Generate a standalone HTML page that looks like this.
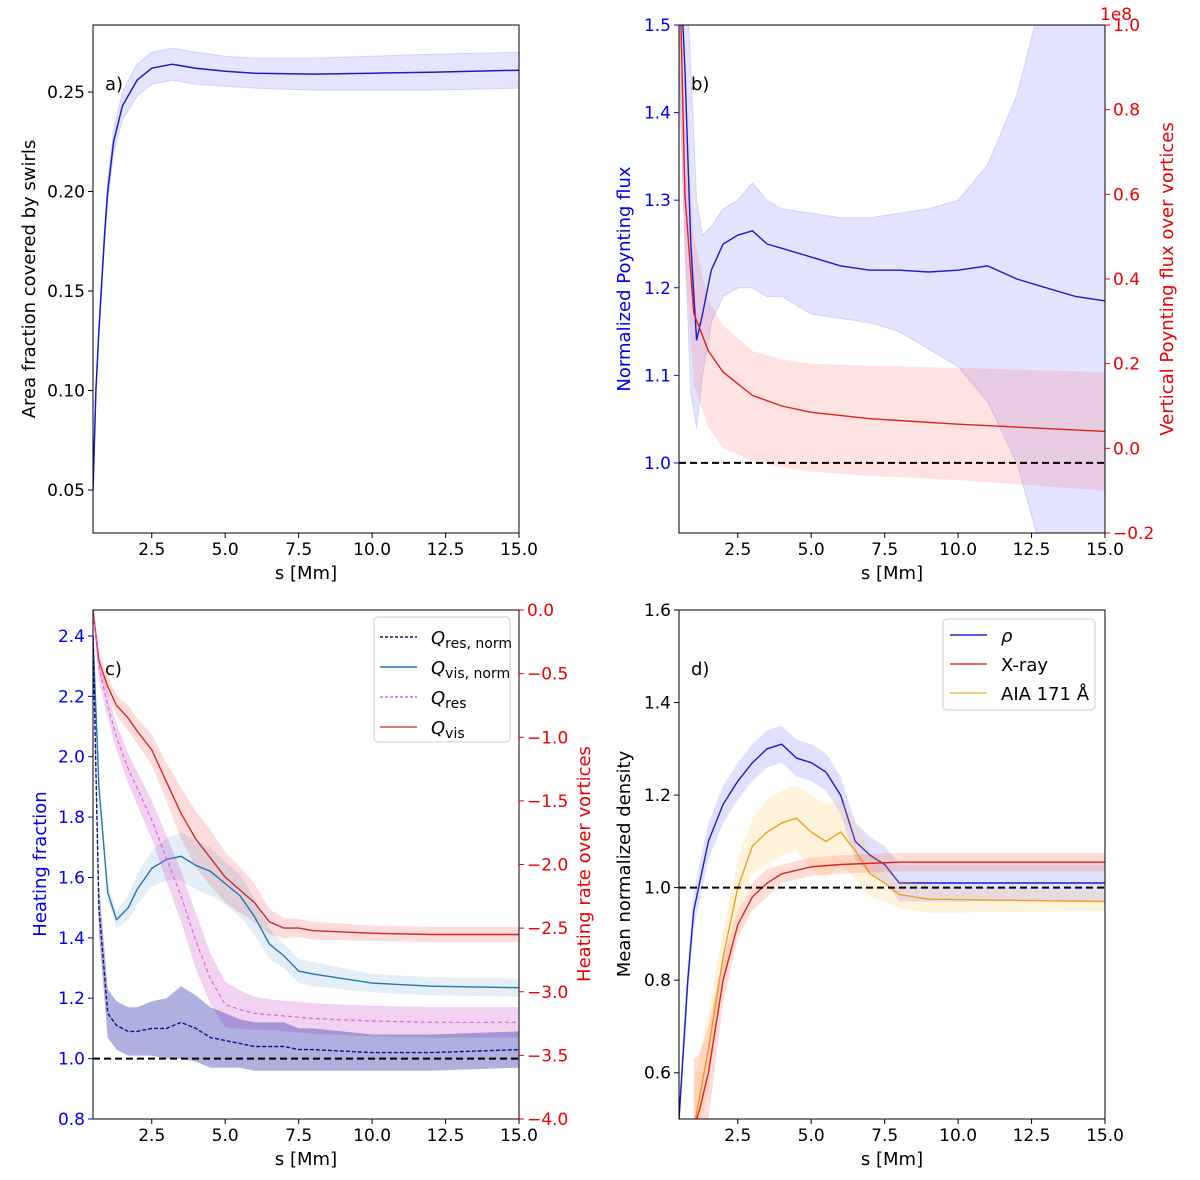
<!DOCTYPE html>
<html><head><meta charset="utf-8"><style>
body{margin:0;background:#fff;font-family:"Liberation Sans","DejaVu Sans",sans-serif}
svg text{font-family:"DejaVu Sans","Liberation Sans",sans-serif}
</style></head><body>
<svg id="fig" width="1200" height="1175" xmlns="http://www.w3.org/2000/svg"></svg>
<script>
// ---- shared x ----
const xTicks=[2.5,5,7.5,10,12.5,15];
const xTickLabels=["2.5","5.0","7.5","10.0","12.5","15.0"];
// ---- panel a ----
const aS=[0.5,0.6,0.7,0.8,0.9,1.0,1.2,1.5,2,2.5,3.2,4,5,6,8,10,12,15];
const aMean=[0.05,0.10,0.13,0.155,0.18,0.20,0.225,0.243,0.256,0.262,0.264,0.262,0.2605,0.2595,0.259,0.2595,0.260,0.261];
const aUp=[0.052,0.102,0.133,0.158,0.184,0.205,0.231,0.25,0.264,0.27,0.272,0.27,0.268,0.267,0.267,0.268,0.269,0.270];
const aLo=[0.048,0.098,0.127,0.152,0.176,0.195,0.219,0.236,0.248,0.254,0.256,0.254,0.253,0.252,0.251,0.251,0.251,0.252];
const aYTicks=[0.05,0.10,0.15,0.20,0.25];
// ---- panel b ----
const bS=[0.5,0.7,0.9,1.1,1.3,1.6,2,2.5,3,3.5,4,5,6,7,8,9,10,11,12,13,14,15];
const bMean=[1.6,1.45,1.25,1.14,1.17,1.22,1.25,1.26,1.265,1.25,1.245,1.235,1.225,1.22,1.22,1.218,1.22,1.225,1.21,1.20,1.19,1.185];
const bUp=[1.7,1.6,1.45,1.3,1.26,1.27,1.29,1.30,1.32,1.30,1.29,1.285,1.28,1.28,1.285,1.29,1.30,1.34,1.42,1.55,1.6,1.5];
const bLo=[1.45,1.25,1.08,1.04,1.1,1.16,1.19,1.20,1.20,1.19,1.19,1.17,1.165,1.16,1.15,1.13,1.11,1.07,1.0,0.88,0.85,0.86];
const bRS=[0.5,0.7,1.0,1.5,2,3,4,5,7,10,15];
const bRed=[1.2,0.6,0.32,0.23,0.18,0.125,0.1,0.085,0.07,0.057,0.04];
const bRedUp=[1.2,0.8,0.5,0.35,0.29,0.23,0.21,0.2,0.195,0.19,0.18];
const bRedLo=[0.9,0.45,0.15,0.05,0.0,-0.03,-0.045,-0.055,-0.065,-0.075,-0.1];
const bYTicks=[1.0,1.1,1.2,1.3,1.4,1.5];
const bRTicks=[-0.2,0,0.2,0.4,0.6,0.8,1.0];
const bRTickLabels=["\u22120.2","0.0","0.2","0.4","0.6","0.8","1.0"];
// ---- panel c ----
const cS=[0.5,0.7,1,1.3,1.7,2,2.5,3,3.5,4,4.5,5,5.5,6,6.5,7,7.5,8,10,12,15];
const cVisNorm=[2.4,1.9,1.55,1.46,1.5,1.56,1.63,1.66,1.67,1.64,1.62,1.58,1.54,1.47,1.38,1.34,1.29,1.28,1.25,1.24,1.235];
const cVisNormBand=[0.03,0.03,0.03,0.03,0.04,0.05,0.06,0.07,0.08,0.08,0.08,0.07,0.07,0.06,0.05,0.04,0.04,0.04,0.03,0.03,0.03];
const cResNorm=[2.4,1.5,1.15,1.11,1.09,1.09,1.10,1.10,1.12,1.10,1.07,1.06,1.05,1.04,1.04,1.04,1.03,1.03,1.02,1.02,1.03];
const cResNormBand=[0.05,0.08,0.08,0.08,0.08,0.08,0.09,0.1,0.12,0.11,0.1,0.09,0.08,0.08,0.08,0.08,0.07,0.07,0.06,0.06,0.06];
const cVis=[0,-0.4,-0.6,-0.75,-0.85,-0.95,-1.1,-1.35,-1.6,-1.8,-1.95,-2.1,-2.2,-2.3,-2.45,-2.5,-2.5,-2.52,-2.54,-2.55,-2.55];
const cVisBand=[0.05,0.08,0.08,0.08,0.1,0.1,0.12,0.15,0.2,0.22,0.22,0.2,0.18,0.15,0.1,0.08,0.07,0.07,0.06,0.06,0.06];
const cRes=[0,-0.45,-0.75,-1.0,-1.25,-1.4,-1.65,-1.95,-2.25,-2.6,-2.9,-3.1,-3.14,-3.17,-3.18,-3.19,-3.2,-3.21,-3.23,-3.24,-3.24];
const cResBand=[0.05,0.1,0.1,0.1,0.12,0.13,0.15,0.18,0.2,0.22,0.2,0.18,0.15,0.13,0.12,0.12,0.12,0.12,0.12,0.12,0.12];
const cYTicks=[0.8,1.0,1.2,1.4,1.6,1.8,2.0,2.2,2.4];
const cRTicks=[-4,-3.5,-3,-2.5,-2,-1.5,-1,-0.5,0];
// ---- panel d ----
const dS=[0.5,0.8,1,1.5,2,2.5,3,3.5,4,4.5,5,5.5,6,6.5,7,7.5,8,9,15];
const dRho=[0.5,0.8,0.95,1.1,1.18,1.23,1.27,1.3,1.31,1.28,1.27,1.25,1.2,1.1,1.07,1.05,1.01,1.01,1.01];
const dXS=[1.0,1.2,1.5,2,2.5,3,3.5,4,5,6,8,15];
const dXray=[0.48,0.52,0.6,0.8,0.92,0.98,1.01,1.03,1.045,1.05,1.055,1.055];
const dXrayBand=[0.15,0.12,0.1,0.05,0.03,0.03,0.03,0.02,0.02,0.02,0.02,0.02];
const dAS=[1.0,1.5,2,2.5,3,3.5,4,4.5,5,5.5,6,6.5,7,7.5,8,9,15];
const dAia=[0.48,0.65,0.85,1.0,1.09,1.12,1.14,1.15,1.12,1.1,1.12,1.08,1.03,1.01,0.985,0.975,0.97];
const dAiaBand=[0.1,0.08,0.06,0.06,0.06,0.07,0.07,0.07,0.08,0.08,0.07,0.06,0.05,0.04,0.03,0.03,0.02];
const dYTicks=[0.6,0.8,1.0,1.2,1.4,1.6];

const NS="http://www.w3.org/2000/svg";
const svg=document.getElementById('fig');
function el(tag,attrs,parent){const e=document.createElementNS(NS,tag);for(const k in attrs)e.setAttribute(k,attrs[k]);(parent||svg).appendChild(e);return e;}
function panel(x0,y0,w,h,ymin,ymax){return{x0,y0,w,h,sx:s=>x0+(s-0.5)/14.5*w,sy:v=>y0+h-(v-ymin)/(ymax-ymin)*h};}
function yScale(p,ymin,ymax){return v=>p.y0+p.h-(v-ymin)/(ymax-ymin)*p.h;}
function pathD(xs,ys,sx,sy){return xs.map((s,i)=>(i?'L':'M')+sx(s).toFixed(1)+','+sy(ys[i]).toFixed(1)).join('');}
function bandD(xs,lo,hi,sx,sy){let d=xs.map((s,i)=>(i?'L':'M')+sx(s).toFixed(1)+','+sy(hi[i]).toFixed(1)).join('');for(let i=xs.length-1;i>=0;i--)d+='L'+sx(xs[i]).toFixed(1)+','+sy(lo[i]).toFixed(1);return d+'Z';}
function pm(a,b,sign){return a.map((v,i)=>v+sign*b[i]);}

function frame(p,name){
  const g=el('g',{'clip-path':'url(#clip-'+name+')'});
  const cp=el('clipPath',{id:'clip-'+name});
  el('rect',{x:p.x0,y:p.y0,width:p.w,height:p.h},cp);
  return g;
}
function axesBox(p,name){
  const r=el('rect',{x:p.x0,y:p.y0,width:p.w,height:p.h,fill:'none',stroke:'#000','stroke-width':1});
  
  xTicks.forEach((t,i)=>{const x=p.sx(t);el('line',{x1:x,x2:x,y1:p.y0+p.h,y2:p.y0+p.h+5,stroke:'#000'});
    const tx=el('text',{x:x,y:p.y0+p.h+22,'text-anchor':'middle','font-size':17});tx.textContent=xTickLabels[i];
    });
  const xl=el('text',{x:p.x0+p.w/2,y:p.y0+p.h+46,'text-anchor':'middle','font-size':18});xl.textContent='s [Mm]';
  
}
function yAxis(p,sy,ticks,labels,color,right,name){
  ticks.forEach((t,i)=>{const y=sy(t);const x=right?p.x0+p.w:p.x0;
    el('line',{x1:x,x2:right?x+5:x-5,y1:y,y2:y,stroke:color});
    const tx=el('text',{x:right?x+8:x-8,y:y+6,'text-anchor':right?'start':'end','font-size':17,fill:color});
    tx.textContent=labels[i];
    });
}
function yTitle(x,y,txt,color,name){const t=el('text',{x:x,y:y,'text-anchor':'middle','font-size':18,fill:color,transform:`rotate(-90 ${x} ${y})`});t.textContent=txt;
  }
function panelLabel(x,y,txt,name){const t=el('text',{x:x,y:y,'font-size':18});t.textContent=txt;}

// ===== Panel a =====
const pa=panel(93,25,426,508,0.0284,0.2837);
let g=frame(pa,'a');
let e=el('path',{d:bandD(aS,aLo,aUp,pa.sx,pa.sy),fill:'rgba(80,80,255,0.15)',stroke:'rgba(80,80,255,0.2)'},g);

e=el('path',{d:pathD(aS,aMean,pa.sx,pa.sy),fill:'none',stroke:'#1a1acc','stroke-width':1.5},g);

axesBox(pa,'panel-a');
yAxis(pa,pa.sy,aYTicks,aYTicks.map(v=>v.toFixed(2)),'#000',false,'panel-a-y');
yTitle(35,279,'Area fraction covered by swirls','#000','panel-a-y-axis-title');
panelLabel(105,90,'a)','panel-a-label');

// ===== Panel b =====
const pb=panel(679,25,426,508,0.92,1.5);
const byR=yScale(pb,-0.2,1.0);
g=frame(pb,'b');
e=el('path',{d:bandD(bS,bLo,bUp,pb.sx,pb.sy),fill:'rgba(90,90,255,0.16)',stroke:'rgba(90,90,255,0.2)'},g);

e=el('path',{d:bandD(bRS,bRedLo,bRedUp,pb.sx,byR),fill:'rgba(255,80,80,0.16)'},g);

e=el('path',{d:pathD(bS,bMean,pb.sx,pb.sy),fill:'none',stroke:'#1a1acc','stroke-width':1.4},g);

e=el('path',{d:pathD(bRS,bRed,pb.sx,byR),fill:'none',stroke:'#e02020','stroke-width':1.4},g);

e=el('line',{x1:pb.x0,x2:pb.x0+pb.w,y1:pb.sy(1),y2:pb.sy(1),stroke:'#000','stroke-width':2,'stroke-dasharray':'7,4'},g);

axesBox(pb,'panel-b');
yAxis(pb,pb.sy,bYTicks,bYTicks.map(v=>v.toFixed(1)),'#0000ee',false,'panel-b-y');
yAxis(pb,byR,bRTicks,bRTickLabels,'#ee0000',true,'panel-b-y2');
e=el('text',{x:1100,y:20,'font-size':17,fill:'#ee0000'});e.textContent='1e8';
yTitle(630,279,'Normalized Poynting flux','#0000ee','panel-b-y-axis-title');
yTitle(1173,279,'Vertical Poynting flux over vortices','#ee0000','panel-b-y2-axis-title');
panelLabel(691,90,'b)','panel-b-label');

// ===== Panel c =====
const pc=panel(93,610,426,509,0.8,2.486);
const cyR=yScale(pc,-4,0);
g=frame(pc,'c');
function bandLine(xs,m,b,sy,fill,stroke,w,dash,name){
  let e1=el('path',{d:bandD(xs,pm(m,b,-1),pm(m,b,1),pc.sx,sy),fill:fill},g);
  
  let e2=el('path',{d:pathD(xs,m,pc.sx,sy),fill:'none',stroke:stroke,'stroke-width':w,'stroke-dasharray':dash||'none'},g);
  
}
bandLine(cS,cVis,cVisBand,cyR,'rgba(240,80,80,0.2)','#d62728',1.4,null,'q-vis');
bandLine(cS,cVisNorm,cVisNormBand,pc.sy,'rgba(31,119,180,0.12)','#1f77b4',1.4,null,'q-vis-norm');
bandLine(cS,cRes,cResBand,cyR,'rgba(200,80,200,0.25)','#dd66dd',1.2,'4,3','q-res');
bandLine(cS,cResNorm,cResNormBand,pc.sy,'rgba(30,30,160,0.35)','#10108a',1.4,'4,2','q-res-norm');
e=el('line',{x1:pc.x0,x2:pc.x0+pc.w,y1:pc.sy(1),y2:pc.sy(1),stroke:'#000','stroke-width':2,'stroke-dasharray':'7,4'},g);

axesBox(pc,'panel-c');
yAxis(pc,pc.sy,cYTicks,cYTicks.map(v=>v.toFixed(1)),'#0000ee',false,'panel-c-y');
yAxis(pc,cyR,cRTicks,cRTicks.map(v=>(v<0?'\u2212':'')+Math.abs(v).toFixed(1)),'#ee0000',true,'panel-c-y2');
yTitle(46,864,'Heating fraction','#0000ee','panel-c-y-axis-title');
yTitle(590,864,'Heating rate over vortices','#ee0000','panel-c-y2-axis-title');
panelLabel(105,675,'c)','panel-c-label');
// legend c
let lg=el('g',{});
el('rect',{x:374,y:617,width:136,height:125,rx:4,fill:'#fff',stroke:'#ccc','fill-opacity':0.85},lg);
const cLeg=[['#10108a','3,2','Q','res, norm'],['#1f77b4',null,'Q','vis, norm'],['#dd66dd','3,2','Q','res'],['#c0504d',null,'Q','vis']];
cLeg.forEach((it,i)=>{const y=637+i*30;
  el('line',{x1:380,x2:417,y1:y,y2:y,stroke:it[0],'stroke-width':1.4,'stroke-dasharray':it[1]||'none'},lg);
  let t=el('text',{x:431,y:y+7,'font-size':18,'font-style':'italic'},lg);t.textContent=it[2];
  let s=el('tspan',{'font-size':14,'font-style':'normal',dy:4},t);s.textContent=it[3];
  });

// ===== Panel d =====
const pd=panel(679,610,426,509,0.5,1.6);
g=frame(pd,'d');
function dSeries(xs,m,b,fill,stroke,name){
  let e1=el('path',{d:bandD(xs,pm(m,b,-1),pm(m,b,1),pd.sx,pd.sy),fill:fill},g);
  
  let e2=el('path',{d:pathD(xs,m,pd.sx,pd.sy),fill:'none',stroke:stroke,'stroke-width':1.4},g);
  
}
dSeries(dS,dRho,dRho.map(()=>0.04),'rgba(90,90,255,0.18)','#1a1acc','rho');
dSeries(dAS,dAia,dAiaBand,'rgba(255,190,60,0.18)','#f0a020','aia-171');
dSeries(dXS,dXray,dXrayBand,'rgba(255,90,60,0.2)','#e02020','x-ray');
e=el('line',{x1:pd.x0,x2:pd.x0+pd.w,y1:pd.sy(1),y2:pd.sy(1),stroke:'#000','stroke-width':2,'stroke-dasharray':'7,4'},g);

axesBox(pd,'panel-d');
yAxis(pd,pd.sy,dYTicks,dYTicks.map(v=>v.toFixed(1)),'#000',false,'panel-d-y');
yTitle(630,864,'Mean normalized density','#000','panel-d-y-axis-title');
panelLabel(691,675,'d)','panel-d-label');
lg=el('g',{});
el('rect',{x:943,y:619,width:152,height:91,rx:4,fill:'#fff',stroke:'#ccc','fill-opacity':0.85},lg);
[['#2222dd','ρ'],['#e03030','X-ray'],['#e8c050','AIA 171 Å']].forEach((it,i)=>{const y=635+i*29;
  el('line',{x1:950,x2:987,y1:y,y2:y,stroke:it[0],'stroke-width':1.4},lg);
  let t=el('text',{x:1001,y:y+7,'font-size':18,'font-style':i===0?'italic':'normal'},lg);t.textContent=it[1];
  });
</script>
</body></html>
